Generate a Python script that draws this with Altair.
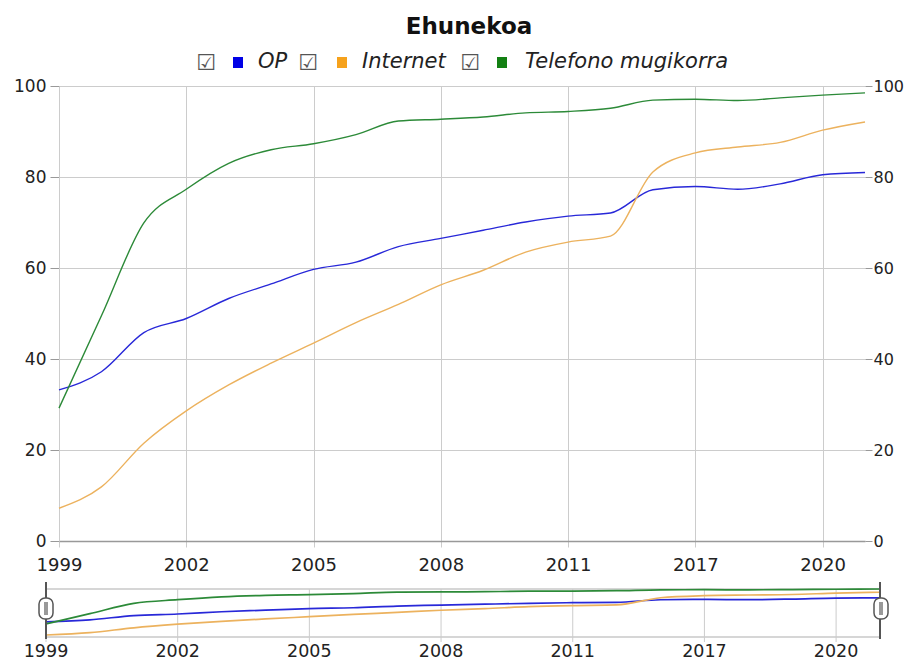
import altair as alt
import pandas as pd

# ---------------- data ----------------
years = ["1999", "2000", "2001", "2002", "2003", "2004", "2005", "2006", "2007",
         "2008", "2009", "2010", "2011", "2013", "2015", "2017", "2018", "2019",
         "2020", "2021"]
label_years = ["1999", "2002", "2005", "2008", "2011", "2017", "2020"]
series_names = ["OP", "Internet", "Telefono mugikorra"]

op = [33.2, 37.2, 45.8, 48.9, 53.3, 56.5, 59.7, 61.3, 64.7, 66.5, 68.3, 70.1,
      71.4, 72.1, 77.2, 77.9, 77.3, 78.5, 80.5, 81.0]
internet = [7.2, 11.9, 21.5, 28.6, 34.3, 39.1, 43.5, 48.0, 52.0, 56.3, 59.5, 63.5,
            65.7, 67.0, 81.1, 85.3, 86.6, 87.6, 90.3, 92.1]
telefono = [29.2, 49.5, 69.9, 77.3, 83.0, 86.0, 87.3, 89.3, 92.3, 92.7, 93.2, 94.1,
            94.4, 95.1, 96.9, 97.1, 96.8, 97.4, 98.0, 98.5]
y_ticks = [0, 20, 40, 60, 80, 100]

# ---------------- styling ----------------
line_colors = ["#2828d8", "#ecb25e", "#2c8a38"]
key_colors = ["#0000e6", "#f6a21c", "#138013"]
FONT = "DejaVu Sans"
W, H = 806, 455

rows = []
for name, vals in zip(series_names, [op, internet, telefono]):
    for yr, v in zip(years, vals):
        rows.append({"year": yr, "series": name, "value": v})
df = pd.DataFrame(rows)
lab_df = pd.DataFrame({"year": label_years})
ends_df = pd.DataFrame({"year": [years[0], years[-1]]})
one = pd.DataFrame({"a": [0]})

color = alt.Color("series:N", scale=alt.Scale(domain=series_names, range=line_colors),
                  legend=None)

# ---------------- main chart ----------------
main_x = alt.Scale(type="point", domain=years, padding=0)
main_lines = alt.Chart(df).mark_line(interpolate="monotone", strokeWidth=1.4).encode(
    x=alt.X("year:O", scale=main_x,
            axis=alt.Axis(values=label_years, labelAngle=0, grid=True,
                          gridColor="#cccccc", domainColor="#999999", domainWidth=1.5,
                          tickColor="#cccccc", tickSize=6, labelPadding=9,
                          labelFontSize=18, labelFont=FONT, labelColor="#222222",
                          labelOverlap=False, title=None)),
    y=alt.Y("value:Q", scale=alt.Scale(domain=[0, 100], nice=False),
            axis=alt.Axis(orient="left", values=y_ticks, grid=True, gridColor="#cccccc",
                          domainColor="#cccccc", tickColor="#999999", tickSize=9,
                          labelPadding=4, labelFontSize=17, labelFont=FONT,
                          labelColor="#222222", title=None)),
    color=color,
)
right_axis = alt.Chart(df).mark_point(opacity=0).encode(
    y=alt.Y("value:Q", scale=alt.Scale(domain=[0, 100], nice=False),
            axis=alt.Axis(orient="right", values=y_ticks, grid=False, domain=False,
                          tickColor="#999999", tickSize=7, labelPadding=1,
                          labelFontSize=16, labelFont=FONT, labelColor="#222222",
                          title=None)),
)
core = alt.layer(main_lines, right_axis).resolve_scale(y="independent")

# ---------------- range-filter strip ----------------
all_vals = op + internet + telefono
mini_x = alt.Scale(type="point", domain=years, padding=0, range=[-13, 821])
mini_y = alt.Scale(domain=[min(all_vals), max(all_vals)], nice=False, zero=False,
                   range=[549, 503])
mini_lines = alt.Chart(df).mark_line(interpolate="monotone", strokeWidth=1.7).encode(
    x=alt.X("year:O", scale=mini_x, axis=None),
    y=alt.Y("value:Q", scale=mini_y, axis=None),
    color=color,
)
mini_grid = alt.Chart(lab_df).mark_rule(color="#cccccc", strokeWidth=1).encode(
    x=alt.X("year:O", scale=mini_x, axis=None), y=alt.value(503), y2=alt.value(556))
mini_labels = alt.Chart(lab_df).mark_text(fontSize=17.5, font=FONT, color="#222222",
                                           baseline="middle").encode(
    x=alt.X("year:O", scale=mini_x, axis=None), y=alt.value(566), text="year:O")
mini_handles = alt.Chart(ends_df).mark_rule(color="#555555", strokeWidth=2).encode(
    x=alt.X("year:O", scale=mini_x, axis=None), y=alt.value(496), y2=alt.value(553))
mini_box = alt.layer(
    alt.Chart(one).mark_rule(color="#d6d6d6", strokeWidth=2).encode(
        x=alt.value(-13), x2=alt.value(821), y=alt.value(503)),
    alt.Chart(one).mark_rule(color="#d6d6d6", strokeWidth=2).encode(
        x=alt.value(-13), x2=alt.value(821), y=alt.value(551)),
)
mini = alt.layer(mini_box, mini_grid, mini_lines, mini_handles, mini_labels)

grips = []
for cx in (-13, 822):
    grips.append(alt.Chart(one).mark_rect(fill="white", stroke="#555555", strokeWidth=1.5,
                                          cornerRadius=6).encode(
        x=alt.value(cx - 7), x2=alt.value(cx + 7), y=alt.value(512), y2=alt.value(533)))
    grips.append(alt.Chart(one).mark_rect(fill="#999999").encode(
        x=alt.value(cx - 2), x2=alt.value(cx + 2), y=alt.value(516), y2=alt.value(529)))

# ---------------- title and legend ----------------
title = alt.Chart(one).mark_text(text="Ehunekoa", font=FONT, fontSize=23,
                                 fontWeight="bold", color="#111111", align="center",
                                 baseline="alphabetic").encode(
    x=alt.value(410), y=alt.value(-52))

legend_layers = []
box_x = [147, 249, 411]
sq_x = [179, 283, 443]
lab_x = [199, 303, 466]
for i, name in enumerate(series_names):
    legend_layers.append(alt.Chart(one).mark_text(text="\u2611", font=FONT, fontSize=22,
                                                  color="#555555", align="center",
                                                  baseline="middle").encode(
        x=alt.value(box_x[i]), y=alt.value(-23)))
    legend_layers.append(alt.Chart(one).mark_rect(fill=key_colors[i]).encode(
        x=alt.value(sq_x[i] - 5), x2=alt.value(sq_x[i] + 5),
        y=alt.value(-29), y2=alt.value(-18)))
    legend_layers.append(alt.Chart(one).mark_text(text=name, font=FONT, fontSize=21,
                                                  fontStyle="italic", color="#222222",
                                                  align="left", baseline="middle").encode(
        x=alt.value(lab_x[i]), y=alt.value(-24)))

chart = alt.layer(core, mini, *grips, title, *legend_layers).resolve_scale(
    x="independent", y="independent"
).properties(
    width=W, height=H,
    autosize=alt.AutoSizeParams(type="none"),
    padding={"left": 51, "top": 78, "right": 39, "bottom": 121},
).configure_view(stroke=None)

chart.save("out.html", embed_options={"renderer": "svg", "actions": False})
